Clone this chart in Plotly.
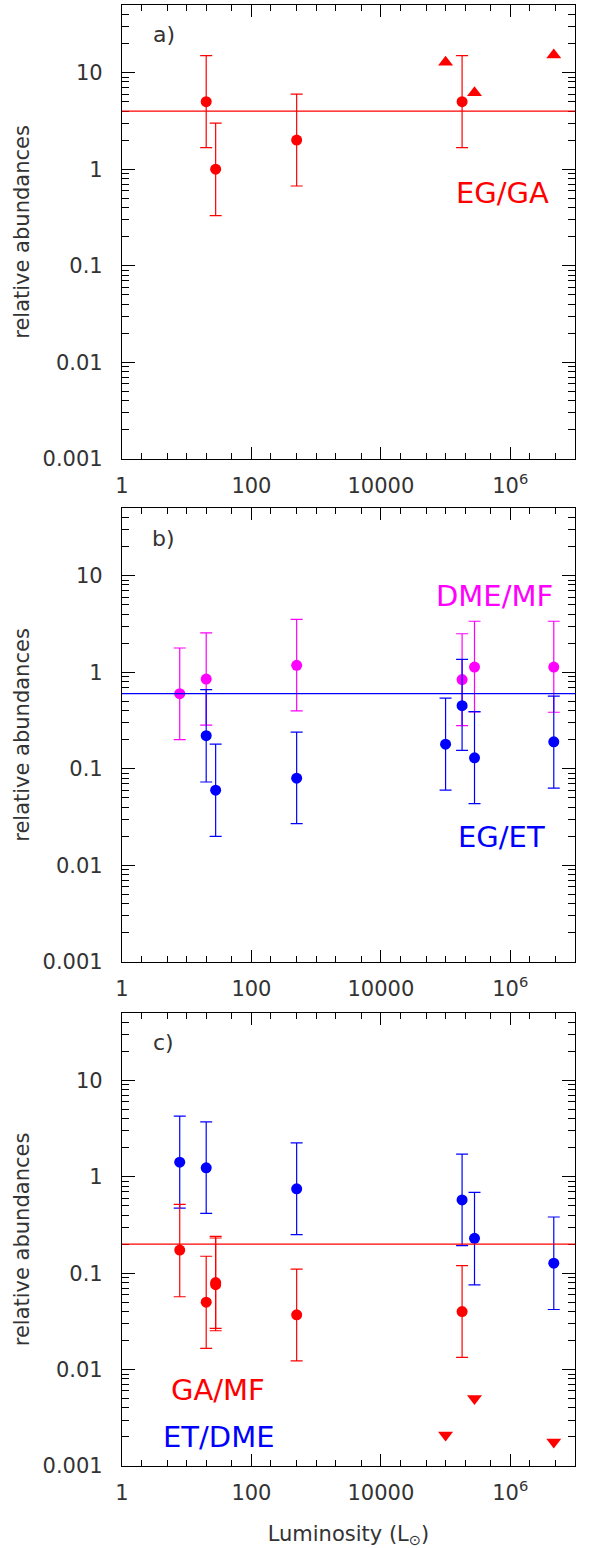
import plotly.graph_objects as go

# ---------------- data ----------------
# Panel a: EG/GA
a_L = [20, 28, 500, 1.8e5]
a_val = [5.0, 1.0, 2.0, 5.0]
a_hi = [15.0, 3.0, 6.0, 15.0]
a_lo = [1.67, 0.33, 0.67, 1.67]
a_lim_L = [1.0e5, 2.8e5, 4.7e6]
a_lim_val = [12.8, 6.2, 15.2]
a_line = 4.0

# Panel b: DME/MF (magenta) and EG/ET (blue)
b_dme_L = [7.8, 20, 500, 1.8e5, 2.8e5, 4.7e6]
b_dme_val = [0.6, 0.85, 1.18, 0.84, 1.13, 1.13]
b_dme_hi = [1.78, 2.55, 3.53, 2.5, 3.37, 3.37]
b_dme_lo = [0.2, 0.283, 0.398, 0.28, 0.389, 0.385]
b_eg_L = [20, 28, 500, 1.0e5, 1.8e5, 2.8e5, 4.7e6]
b_eg_val = [0.22, 0.06, 0.08, 0.18, 0.45, 0.13, 0.19]
b_eg_hi = [0.66, 0.18, 0.24, 0.54, 1.36, 0.39, 0.565]
b_eg_lo = [0.073, 0.02, 0.027, 0.06, 0.155, 0.0435, 0.063]
b_line = 0.6

# Panel c: ET/DME (blue) and GA/MF (red)
c_et_L = [7.8, 20, 500, 1.8e5, 2.8e5, 4.7e6]
c_et_val = [1.42, 1.24, 0.75, 0.575, 0.23, 0.127]
c_et_hi = [4.27, 3.71, 2.25, 1.72, 0.69, 0.383]
c_et_lo = [0.474, 0.418, 0.251, 0.193, 0.0757, 0.042]
c_ga_L = [7.8, 20, 28, 28, 500, 1.8e5]
c_ga_val = [0.174, 0.05, 0.08, 0.076, 0.037, 0.04]
c_ga_hi = [0.517, 0.15, 0.241, 0.232, 0.11, 0.12]
c_ga_lo = [0.057, 0.0166, 0.0268, 0.0253, 0.0123, 0.0134]
c_lim_L = [1.0e5, 2.8e5, 4.7e6]
c_lim_val = [0.0021, 0.0050, 0.00177]
c_line = 0.2

x_tickvals = [1, 100, 1e4, 1e6]
x_ticktext = ["1", "100", "10000", "10<sup>6</sup>"]
y_tickvals = [0.001, 0.01, 0.1, 1, 10]
y_ticktext = ["0.001", "0.01", "0.1", "1", "10"]

RED = "#ff0000"
BLUE = "#0000ff"
MAG = "#ff00ff"
FONT = "DejaVu Sans ExtraLight, DejaVu Sans"
TXT = "#333333"

fig = go.Figure()


def err_trace(L, v, hi, lo, color, xa, ya):
    return go.Scatter(
        x=L, y=v, mode="markers", xaxis=xa, yaxis=ya, showlegend=False,
        marker=dict(symbol="circle", size=11, color=color),
        error_y=dict(type="data", symmetric=False,
                     array=[h - y for h, y in zip(hi, v)],
                     arrayminus=[y - l for l, y in zip(lo, v)],
                     color=color, thickness=1.2, width=6),
    )


# Panel a
fig.add_trace(err_trace(a_L, a_val, a_hi, a_lo, RED, "x", "y"))
fig.add_trace(go.Scatter(x=a_lim_L, y=a_lim_val, mode="markers", xaxis="x", yaxis="y",
                         showlegend=False,
                         marker=dict(symbol="triangle-up", size=13, color=RED)))
# Panel b
fig.add_trace(err_trace(b_dme_L, b_dme_val, b_dme_hi, b_dme_lo, MAG, "x2", "y2"))
fig.add_trace(err_trace(b_eg_L, b_eg_val, b_eg_hi, b_eg_lo, BLUE, "x2", "y2"))
# Panel c
fig.add_trace(err_trace(c_et_L, c_et_val, c_et_hi, c_et_lo, BLUE, "x3", "y3"))
fig.add_trace(err_trace(c_ga_L, c_ga_val, c_ga_hi, c_ga_lo, RED, "x3", "y3"))
fig.add_trace(go.Scatter(x=c_lim_L, y=c_lim_val, mode="markers", xaxis="x3", yaxis="y3",
                         showlegend=False,
                         marker=dict(symbol="triangle-down", size=13, color=RED)))

# horizontal reference lines
for yref, xref, val, col in [("y", "x", a_line, RED), ("y2", "x2", b_line, BLUE),
                             ("y3", "x3", c_line, RED)]:
    fig.add_shape(type="line", xref=f"{xref} domain", yref=yref, x0=0, x1=1,
                  y0=val, y1=val, line=dict(color=col, width=1.2))

x_minor = [m * 10 ** k for k in range(0, 7) for m in (1, 2, 5)]
x_minor = [v for v in x_minor if v not in x_tickvals and v <= 1e7]
y_minor = [m * 10.0 ** k for k in range(-3, 2) for m in range(2, 10)]
y_minor = [v for v in y_minor if v < 50]


def xaxis(anchor, show_title=False):
    d = dict(type="log", range=[0, 7], anchor=anchor, showgrid=False, zeroline=False,
             automargin=False,
             showline=True, linecolor="black", linewidth=1.2, mirror="ticks",
             ticks="inside", ticklen=12, tickwidth=1, tickcolor="black",
             tickmode="array", tickvals=x_tickvals, ticktext=x_ticktext,
             tickfont=dict(family=FONT, size=21, color=TXT),
             ticklabelstandoff=8,
             minor=dict(ticks="inside", ticklen=6, tickwidth=1, tickcolor="black",
                        tickmode="array", tickvals=x_minor, showgrid=False))
    if show_title:
        d["title"] = dict(text="Luminosity (L<sub>⊙</sub>)",
                          font=dict(family=FONT, size=21, color=TXT), standoff=22)
    return d


def yaxis(anchor, domain):
    return dict(type="log", range=[-3, 1.7], anchor=anchor, domain=domain,
                showgrid=False, zeroline=False, automargin=False,
                showline=True, linecolor="black", linewidth=1.2, mirror="ticks",
                ticks="inside", ticklen=13, tickwidth=1, tickcolor="black",
                tickmode="array", tickvals=y_tickvals, ticktext=y_ticktext,
                tickfont=dict(family=FONT, size=21, color=TXT),
                ticklabelstandoff=14,
                title=dict(text="relative abundances",
                           font=dict(family=FONT, size=21, color=TXT), standoff=7),
                minor=dict(ticks="inside", ticklen=7, tickwidth=1, tickcolor="black",
                           tickmode="array", tickvals=y_minor, showgrid=False))


fig.update_layout(
    width=594, height=1548,
    margin=dict(l=122, r=19, t=5, b=82),
    paper_bgcolor="white", plot_bgcolor="white",
    xaxis=xaxis("y"), yaxis=yaxis("x", [0.6893, 1.0]),
    xaxis2=xaxis("y2"), yaxis2=yaxis("x2", [0.345, 0.6557]),
    xaxis3=xaxis("y3", True), yaxis3=yaxis("x3", [0.0, 0.3101]),
    showlegend=False,
)

ann = [
    ("x", "y", 0.092, 0.934, "a)", TXT, 22),
    ("x2", "y2", 0.092, 0.932, "b)", TXT, 22),
    ("x3", "y3", 0.092, 0.934, "c)", TXT, 22),
    ("x", "y", 0.839, 0.586, "EG/GA", RED, 29),
    ("x2", "y2", 0.822, 0.806, "DME/MF", MAG, 29),
    ("x2", "y2", 0.837, 0.275, "EG/ET", BLUE, 29),
    ("x3", "y3", 0.213, 0.168, "GA/MF", RED, 29),
    ("x3", "y3", 0.213, 0.064, "ET/DME", BLUE, 29),
]
for xr, yr, xx, yy, txt, col, sz in ann:
    fig.add_annotation(xref=f"{xr} domain", yref=f"{yr} domain", x=xx, y=yy,
                       text=txt, showarrow=False, xanchor="center", yanchor="middle",
                       font=dict(family=FONT, size=sz, color=col))

fig.write_html("out.html",
               config={"displayModeBar": False},
               post_script="document.body.style.margin='0px';"
                           "document.body.style.overflow='hidden';")
